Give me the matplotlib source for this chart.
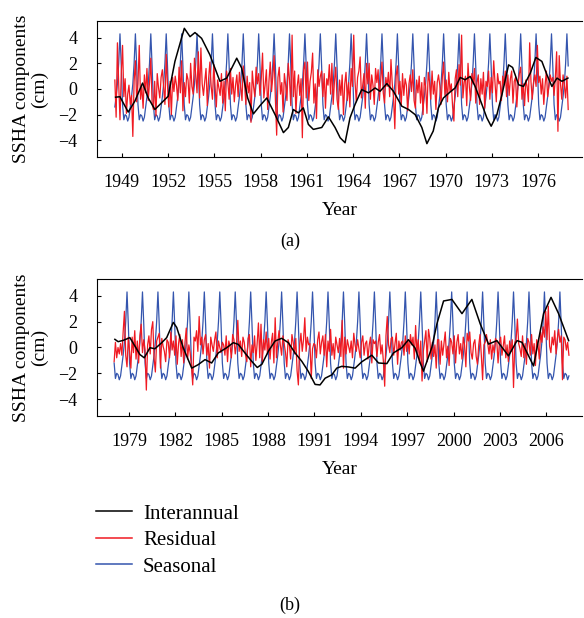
import numpy as np
import matplotlib
matplotlib.use("Agg")
import matplotlib.pyplot as plt
from matplotlib.lines import Line2D

plt.rcParams['font.family'] = ['Liberation Serif', 'DejaVu Serif']

# mean seasonal cycle, Jan..Dec (cm)
seasonal_cycle = [-1.2, -2.4, -2.0, -2.1, -2.5, -2.2, -1.4, -0.6, 0.4, 2.0, 4.3, 1.8]

# panel (a): monthly residual, Jul 1948 .. Dec 1977
resid_a = [
    0.7, -2.2, 3.6, 0.4, -2.4, 1.2,
    3.4, -0.6, 0.8, -1.9, -0.4, 0.3, -1.2, -0.5, -3.7, 0.6, 2.2, -1.0,
    0.4, 3.4, -0.8, 0.2, -1.5, 1.1, -0.3, 1.6, -0.9, 0.5, 2.4, -1.1,
    -1.6, 0.6, -2.1, 1.2, 0.1, -0.7, 0.9, 1.5, 0.2, -1.2, 2.7, 0.3,
    -1.4, 0.6, -2.0, 0.9, -0.2, 1.0, 0.3, -0.9, 1.7, -0.3, 2.2, -1.7,
    0.5, -0.6, 1.2, 0.7, -1.1, 2.0, 0.2, -0.4, 2.4, 1.1, -0.3, 2.9,
    -0.7, 3.2, 0.4, -0.5, 0.6, 1.6, -1.3, 0.8, 2.1, 0.2, -0.8, 1.9,
    0.3, -1.4, 0.7, 0.1, -0.5, 1.2, -1.1, 0.6, -1.7, 1.4, 0.5, -0.8,
    1.6, -0.4, 0.9, -1.0, 0.3, 1.1, -0.6, 1.3, 0.2, -0.9, 1.8, 0.6,
    -1.2, 1.0, -0.3, 0.5, -2.6, 1.4, 0.2, -0.6, 1.7, 0.4, 1.2, -0.5,
    0.8, 2.8, -0.7, 0.3, 1.5, -1.6, 0.6, 2.1, -0.2, 1.0, 2.6, -0.8,
    -3.6, 0.9, 1.7, -0.4, 0.5, -1.8, 1.2, 0.3, -0.9, 2.0, 0.7, -1.3,
    4.2, -0.6, 1.4, -1.9, 0.2, 1.1, -0.5, 0.8, -3.8, 1.5, 2.1, -0.7,
    2.1, -0.9, 0.6, 1.3, 2.8, -1.1, 0.4, -2.3, 1.5, 0.2, 1.0, 1.4,
    -0.6, 1.2, -1.5, 0.8, 0.3, 1.9, -0.4, 2.0, -1.2, 0.6, 1.7, -0.8,
    -1.6, 0.7, -0.5, 1.1, -2.0, 0.4, 1.3, -0.9, 0.5, -1.4, 1.6, 0.2,
    4.2, 0.6, -1.0, 0.9, 1.4, 2.5, -0.7, 0.3, 1.2, -1.5, 2.0, 0.4,
    2.0, -0.8, 1.1, 0.3, -1.2, 1.6, 0.5, 1.5, -0.9, 0.7, 2.1, -0.3,
    -1.1, 0.9, 0.2, 1.3, -0.6, 2.3, 0.4, -0.7, -3.1, 1.0, 1.8, -0.4,
    0.6, -1.3, 1.2, -0.5, 0.8, 0.3, -1.7, 0.4, 1.1, -0.2, 1.5, -0.9,
    -1.5, 0.7, -0.3, 1.0, -1.1, 0.5, -2.0, 0.9, 0.2, -1.9, 1.3, 0.6,
    -0.8, 1.4, -0.4, 0.6, -1.6, 0.5, 1.1, 0.3, -1.2, 0.9, 2.1, -0.5,
    0.7, -1.0, 1.3, -0.2, 0.4, -1.4, -2.5, 0.8, 1.5, -0.6, 1.9, 0.3,
    4.2, -0.7, 0.5, 1.0, -1.3, 2.0, 0.2, -0.9, 1.2, 0.4, 1.6, -1.1,
    0.5, 1.1, -1.2, 0.8, -0.4, 1.3, -1.5, 0.6, 0.2, 1.4, -0.8, 0.9,
    -0.3, 2.2, 0.5, -1.0, 1.2, 0.4, 0.6, -0.9, 1.0, 0.3, 1.4, -0.6,
    1.1, -0.5, 0.8, 1.4, -1.1, 0.6, 0.9, -1.4, 0.3, 1.2, 1.7, -0.8,
    0.4, -1.3, 0.7, 0.2, -1.0, 3.6, 0.6, -0.8, 0.5, 1.1, 0.2, 3.4,
    0.5, 1.0, -0.4, 0.8, -1.2, 0.3, 1.4, -0.6, 0.2, 1.1, 0.6, 0.9,
    -0.5, 0.9, 2.9, -3.3, 2.6, 0.4, -0.8, 1.1, 0.3, -0.7, 1.0, -1.6,
]

# panel (a): interannual component (decimal year, cm)
inter_a_year = [
    1948.59, 1948.87, 1949.41, 1949.84, 1950.34, 1950.71, 1951.14, 1951.68,
    1952.00, 1952.44, 1953.05, 1953.42, 1953.74, 1954.17, 1954.71, 1955.36,
    1955.80, 1956.45, 1956.77, 1957.16, 1957.53, 1957.96, 1958.40, 1958.94,
    1959.48, 1959.80, 1960.12, 1960.45, 1960.77, 1961.10, 1961.42, 1961.97,
    1962.40, 1962.83, 1963.16, 1963.48, 1963.80, 1964.13, 1964.56, 1965.00,
    1965.43, 1965.75, 1966.19, 1966.62, 1967.16, 1967.60, 1968.03, 1968.46,
    1968.79, 1969.20, 1969.54, 1969.86, 1970.30, 1970.62, 1970.95, 1971.27,
    1971.60, 1971.92, 1972.36, 1972.68, 1972.96, 1973.33, 1973.66, 1974.09,
    1974.35, 1974.74, 1975.06, 1975.50, 1975.86, 1976.25, 1976.58, 1976.90,
    1977.23, 1977.55, 1977.94,
]
inter_a = [
    -0.64, -0.60, -1.80, -0.95, 0.46, -0.70, -1.60, -0.95,
    -0.57, 2.15, 4.73, 4.08, 4.40, 3.95, 2.66, 0.60,
    0.85, 2.40, 1.63, -0.70, -1.94, -1.30, -0.70, -2.00,
    -3.40, -3.00, -1.60, -1.86, -1.47, -2.76, -3.15, -3.00,
    -2.17, -3.00, -3.80, -4.19, -2.25, -1.20, -0.05, -0.30,
    0.08, -0.18, 0.42, -0.18, -1.34, -1.60, -2.00, -3.00,
    -4.26, -3.28, -1.47, -0.70, -0.23, 0.08, 0.90, 0.72,
    0.98, 0.20, -1.20, -2.25, -2.90, -2.00, -0.44, 1.88,
    1.68, 0.33, 0.20, 1.24, 2.46, 2.15, 1.10, 0.20,
    0.85, 0.60, 0.85,
]

# panel (b): monthly residual, Jan 1978 .. Jun 2007
resid_b = [
    -1.1, 0.4, -0.8, 0.0, -0.5, 0.3, -0.6, 1.2, 2.8, -0.6, -1.5, 0.8,
    -0.3, -1.6, 0.8, -0.4, 1.3, -0.9, 0.5, -1.2, 0.9, 1.8, -0.4, 0.6,
    -0.2, -3.3, 0.2, 0.9, -0.5, 1.4, 2.0, -0.8, -1.9, 0.5, 0.8, 1.1,
    -1.6, 0.7, 0.1, -0.3, -1.1, 0.6, 0.4, -0.8, 1.2, -0.2, 0.5, -0.6,
    0.9, -1.3, 0.3, 1.0, -0.7, 0.6, -1.2, 0.4, 1.5, -0.9, 0.2, -0.4,
    -1.4, -2.9, 0.8, 0.5, 1.3, -0.3, 2.4, 0.2, 0.8, -0.5, 0.6, 1.0,
    -0.6, 0.3, -1.6, 0.8, 0.2, -0.3, 0.6, 1.2, -0.8, 0.5, 0.0, -0.4,
    0.4, 0.2, -0.6, 0.9, -1.1, 0.5, 0.1, -0.8, 1.0, 0.6, -0.5, 0.3,
    2.1, -0.3, 0.5, -0.7, 0.8, 0.4, -0.6, -1.1, 0.7, 1.0, -1.5, 0.2,
    -0.4, 0.9, -1.0, 0.3, 1.9, -0.8, 1.8, -1.1, 0.6, -0.2, 1.2, -0.5,
    0.7, -0.9, 0.4, 1.1, -1.2, 2.3, -0.8, 0.4, 1.3, 0.2, -0.6, 0.9,
    0.3, -0.4, -1.5, 0.6, 0.2, -0.9, 1.0, 0.4, -0.5, 0.7, -1.8, -2.9,
    0.2, 1.1, -0.3, 0.6, 2.3, -0.3, 0.8, 0.2, 0.3, -2.4, -0.1, 0.3,
    0.2, -0.8, 0.6, 1.2, -0.5, 0.4, 0.9, -0.6, 1.0, -1.5, 0.5, -0.3,
    1.4, -0.6, 0.3, -0.9, 0.8, 0.2, -0.4, 0.7, -0.7, 2.1, -1.6, 0.8,
    -0.5, 0.6, 0.1, -0.4, 0.5, -0.8, 1.1, 0.2, -0.3, 0.6, -0.1, -0.8,
    0.4, 0.9, -0.6, 0.3, 0.5, -0.9, 0.2, 0.8, -1.2, 0.6, 0.3, 0.5,
    -0.7, 0.4, 1.0, -0.5, 0.2, -1.1, -3.0, 0.9, 2.4, 0.2, -0.4, 0.7,
    0.8, -0.6, 0.3, 1.1, -1.3, 0.5, -0.2, 0.4, 0.5, -0.6, 0.9, -0.3,
    0.6, -0.5, 1.0, 0.2, 0.8, -0.9, 1.7, -0.4, 0.6, -1.2, 0.5, -2.6,
    -0.3, 0.5, 1.3, -1.1, 1.4, 0.7, -0.9, 0.4, -0.7, 0.2, -1.6, 0.6,
    0.6, -1.3, 0.5, -0.6, 0.3, 1.2, -0.8, 0.1, -1.4, 0.7, 0.4, -0.5,
    0.9, -1.2, 0.4, 1.0, -0.5, 0.3, -0.9, 0.8, 0.2, -1.5, 1.1, 0.5,
    1.2, -0.4, -0.9, 0.3, 0.6, -0.7, -1.3, 0.2, 1.0, -0.6, -2.5, 0.2,
    0.4, 1.0, 0.3, -0.5, 0.6, -0.9, 0.2, -0.4, 0.7, 0.5, -1.2, 0.3,
    0.8, -0.6, 0.1, 0.9, -0.8, 0.2, -1.1, 0.5, -0.3, 0.6, -3.1, 0.4,
    0.6, 2.2, 0.3, -0.1, -0.7, 0.9, -0.8, 0.3, -1.3, 0.7, 0.4, -0.6,
    1.0, -0.5, 0.3, -1.4, 0.6, 0.2, -0.9, 1.2, 0.4, 1.6, 0.8, 2.8,
    0.6, 3.2, 0.1, -0.4, 0.8, 0.2, 1.3, -0.5, 0.7, 1.4, 0.4, 0.9,
    -2.5, 0.8, 0.6, -0.2, 0.4, -0.6,
]

# panel (b): interannual component (decimal year, cm)
inter_b_year = [
    1978.09, 1978.30, 1978.63, 1979.06, 1979.39, 1979.71, 1979.99, 1980.36,
    1980.68, 1981.12, 1981.44, 1981.87, 1982.09, 1982.51, 1983.06, 1983.48,
    1983.92, 1984.35, 1984.78, 1985.32, 1985.75, 1986.07, 1986.50, 1986.94,
    1987.30, 1987.60, 1988.02, 1988.45, 1988.88, 1989.31, 1989.74, 1990.18,
    1990.60, 1991.04, 1991.36, 1991.69, 1992.12, 1992.44, 1992.77, 1993.20,
    1993.63, 1994.07, 1994.71, 1995.14, 1995.68, 1996.11, 1996.65, 1997.08,
    1997.51, 1997.84, 1998.05, 1998.59, 1998.92, 1999.35, 1999.89, 2000.54,
    2001.18, 2001.72, 2002.26, 2002.80, 2003.55, 2004.10, 2004.42, 2005.17,
    2005.82, 2006.30, 2006.79, 2007.44,
]
inter_b = [
    0.63, 0.45, 0.55, 0.76, 0.10, -0.55, -0.80, -0.02,
    -0.10, 0.37, 0.76, 1.94, 1.55, -0.02, -1.60, -1.33,
    -0.94, -1.20, -0.42, -0.02, 0.37, 0.24, -0.42, -1.07,
    -1.55, -1.30, -0.29, 0.50, 0.71, 0.37, -0.42, -1.07,
    -1.85, -2.86, -2.90, -2.38, -2.12, -1.60, -1.46, -1.51,
    -1.60, -1.10, -0.60, -1.20, -1.25, -0.42, -0.02, 0.60,
    -0.05, -1.20, -1.83, 0.00, 1.83, 3.60, 3.72, 2.62,
    3.72, 1.83, 0.26, 0.53, -0.65, 0.53, 0.40, -1.43,
    2.62, 3.88, 2.62, 0.53,
]

ticks_a = list(range(1949, 1977, 3))
ticks_b = list(range(1979, 2007, 3))

blue = '#3455ae'
red = '#f01a22'


def draw_panel(ax, start_year, start_month, resid, iy, iv, ticks, xlim):
    n = len(resid)
    months = np.arange(n) + start_month
    t = start_year + (months + 0.5) / 12.0
    seas = [seasonal_cycle[m % 12] for m in months]
    ax.plot(t, seas, color=blue, lw=0.9)
    ax.plot(t, resid, color=red, lw=0.9)
    ax.plot(iy, iv, color='black', lw=1.1)
    ax.set_xlim(xlim)
    ax.set_ylim(-5.3, 5.3)
    ax.set_xticks(ticks)
    ax.set_yticks([-4, -2, 0, 2, 4])
    ax.tick_params(direction='in', length=3, width=0.8, labelsize=13)
    ax.tick_params(axis='x', pad=12)
    ax.tick_params(axis='y', pad=14)
    ax.spines['right'].set_visible(False)
    ax.set_xlabel('Year', fontsize=14, labelpad=8)
    ax.set_ylabel('SSHA components\n(cm)', fontsize=14, linespacing=1.1)
    ax.yaxis.set_label_coords(-0.1, 0.5)


fig = plt.figure(figsize=(5.84, 6.18), dpi=100)
ax1 = fig.add_axes([0.166, 0.746, 0.831, 0.220])
ax2 = fig.add_axes([0.166, 0.327, 0.831, 0.2215])

draw_panel(ax1, 1948, 6, resid_a, inter_a_year, inter_a, ticks_a, (1947.38, 1978.87))
draw_panel(ax2, 1978, 0, resid_b, inter_b_year, inter_b, ticks_b, (1976.93, 2008.32))

fig.text(0.497, 1 - 241 / 618, '(a)', ha='center', va='center', fontsize=13)
fig.text(0.497, 1 - 605 / 618, '(b)', ha='center', va='center', fontsize=13)

handles = [Line2D([], [], color='black', lw=1.1),
           Line2D([], [], color=red, lw=1.1),
           Line2D([], [], color=blue, lw=1.1)]
fig.legend(handles, ['Interannual', 'Residual', 'Seasonal'],
           loc='upper left', bbox_to_anchor=(96 / 584, 1 - 504 / 618),
           frameon=False, fontsize=15, handlelength=1.75, handletextpad=0.5,
           labelspacing=0.33, borderpad=0, borderaxespad=0)

fig.savefig('out.png', dpi=100)
